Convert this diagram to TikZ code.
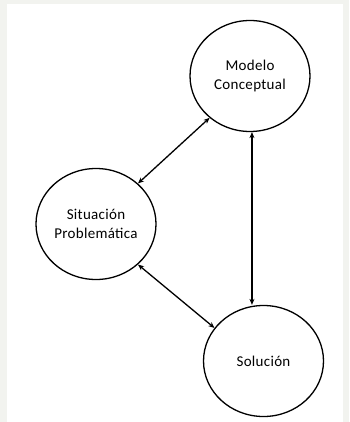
\documentclass[tikz,border=0pt]{standalone}
\usepackage{fontspec}
\setmainfont[LetterSpace=2]{Carlito}
\usetikzlibrary{arrows.meta,shapes.geometric}
\definecolor{bggrey}{HTML}{F2F3EF}
\begin{document}
\begin{tikzpicture}[x=1pt,y=-1pt,
  bubble/.style={draw=black, line width=1.3pt, ellipse, minimum width=120pt, minimum height=111pt,
    inner sep=0pt, align=center, font=\fontsize{15}{19}\selectfont},
  link/.style={line width=1.3pt, {Stealth[length=6pt,width=5pt]}-{Stealth[length=6pt,width=5pt]}}]
\fill[bggrey] (0,0) rectangle (349,422);
\fill[white] (7,4) rectangle (343,422);
\useasboundingbox (0,0) rectangle (349,422);
\node[bubble] (M) at (250,76) {Modelo\\Conceptual};
\node[bubble] (P) at (96,224) {Situación\\Problemática};
\node[bubble] (S) at (263.5,361) {Solución};
\draw[link] (M.226) -- (P.44);
\draw[link] (M.272) -- (M.272 |- S.north);
\draw[link] (P.-44) -- (S.146);
\end{tikzpicture}
\end{document}
